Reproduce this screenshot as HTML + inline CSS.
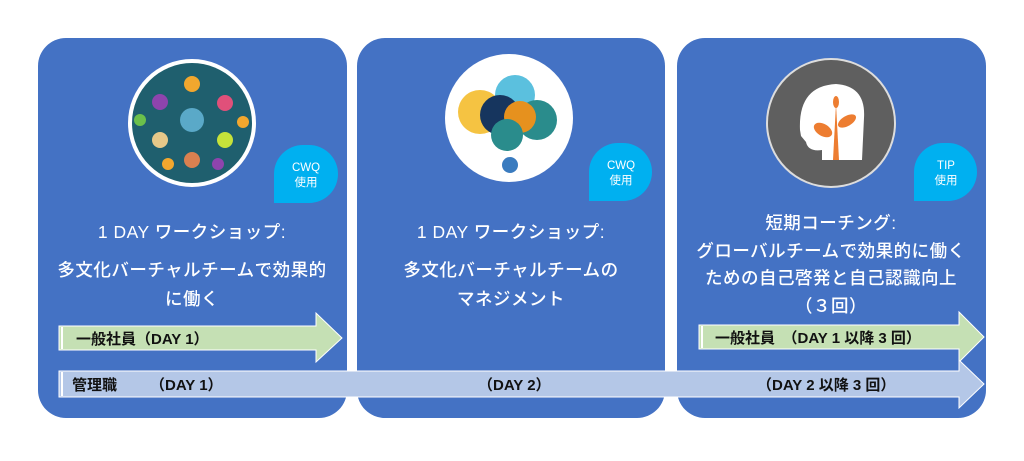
<!DOCTYPE html>
<html><head><meta charset="utf-8"><style>
body{margin:0;background:#fff;width:1024px;height:456px;overflow:hidden;font-family:"Liberation Sans","Noto Sans CJK JP",sans-serif}
</style></head><body>
<svg width="1024" height="456" xmlns="http://www.w3.org/2000/svg" font-family="Liberation Sans, Noto Sans CJK JP, sans-serif">
<rect x="38" y="38" width="309" height="380" rx="28" fill="#4472C4"/>
<rect x="357" y="38" width="308" height="380" rx="28" fill="#4472C4"/>
<rect x="677" y="38" width="309" height="380" rx="28" fill="#4472C4"/>
<!-- circle 1 -->
<circle cx="192" cy="123" r="64" fill="#fff"/>
<circle cx="192" cy="123" r="60" fill="#1f5f6e"/>
<g fill="#f2a72e"><circle cx="192" cy="120" r="12" fill="#5aa9c8"/><circle cx="192" cy="84" r="8"/><circle cx="225" cy="103" r="8" fill="#e0507a"/><circle cx="160" cy="102" r="8" fill="#8e44ad"/><circle cx="225" cy="140" r="8" fill="#c6e23a"/><circle cx="160" cy="140" r="8" fill="#e6c889"/><circle cx="192" cy="160" r="8" fill="#d98050"/><circle cx="140" cy="120" r="6" fill="#6bc04b"/><circle cx="243" cy="122" r="6"/><circle cx="168" cy="164" r="6"/><circle cx="218" cy="164" r="6" fill="#8e44ad"/></g>
<!-- circle 2 -->
<circle cx="509" cy="118" r="64" fill="#fff"/>
<circle cx="480" cy="112" r="22" fill="#f5c342"/>
<circle cx="515" cy="95" r="20" fill="#5bc0de"/>
<circle cx="537" cy="120" r="20" fill="#2a8c8c"/>
<circle cx="500" cy="115" r="20" fill="#16355e"/>
<circle cx="520" cy="117" r="16" fill="#e6911e"/>
<circle cx="507" cy="135" r="16" fill="#2a8c8c"/>
<circle cx="510" cy="165" r="8" fill="#3a7bbf"/>
<!-- circle 3 -->
<circle cx="831" cy="123" r="65" fill="#ddd"/>
<circle cx="831" cy="123" r="63" fill="#5f5f5f"/>
<path d="M800 130 Q798 86 836 84 Q866 86 864 118 L862 160 L822 160 L822 150 Q808 152 806 142 L801 136 Z" fill="#fff"/>
<path d="M833 160 L836 104 L839 160 Z" fill="#ed7d31"/><ellipse cx="836" cy="102" rx="3" ry="6" fill="#ed7d31"/>
<ellipse cx="823" cy="130" rx="10" ry="6" fill="#ed7d31" transform="rotate(30 823 130)"/>
<ellipse cx="847" cy="121" rx="10" ry="5" fill="#ed7d31" transform="rotate(-30 847 121)"/>
<!-- badges -->
<g fill="#00B0F0">
<path d="M274 203 V174 a29 29 0 0 1 29 -29 h6 a29 29 0 0 1 29 29 a29 29 0 0 1 -29 29 Z"/>
<path d="M589 201 V172 a29 29 0 0 1 29 -29 h5 a29 29 0 0 1 29 29 a29 29 0 0 1 -29 29 Z"/>
<path d="M914 201 V172 a29 29 0 0 1 29 -29 h5 a29 29 0 0 1 29 29 a29 29 0 0 1 -29 29 Z"/>
</g>
<g fill="#fff" font-size="11.5" text-anchor="middle">
<text x="306" y="171">CWQ</text><text x="306" y="186">使用</text>
<text x="621" y="169">CWQ</text><text x="621" y="184">使用</text>
<text x="946" y="169">TIP</text><text x="946" y="184">使用</text>
</g>
<g fill="#fff" font-size="17.5" text-anchor="middle" font-weight="500" letter-spacing="0.5">
<text x="192" y="238">1 DAY ワークショップ:</text>
<text x="192" y="276">多文化バーチャルチームで効果的</text>
<text x="192" y="305">に働く</text>
<text x="511" y="238">1 DAY ワークショップ:</text>
<text x="511" y="276">多文化バーチャルチームの</text>
<text x="511" y="305">マネジメント</text>
<text x="831" y="229">短期コーチング:</text>
<text x="831" y="257">グローバルチームで効果的に働く</text>
<text x="831" y="284">ための自己啓発と自己認識向上</text>
<text x="831" y="312">（３回）</text>
</g>
<!-- arrows -->
<path d="M59 326 H316 V313 L342 338 L316 362 V350 H59 Z" fill="#C5E0B4" stroke="#fff" stroke-width="1"/>
<path d="M699 325 H959 V312 L984 337 L959 362 V349 H699 Z" fill="#C5E0B4" stroke="#fff" stroke-width="1"/>
<path d="M59 371 H959 V360 L984 384 L959 408 V397 H59 Z" fill="#B4C7E7" stroke="#fff" stroke-width="1"/>
<g fill="#fff"><rect x="61" y="327" width="2" height="22"/><rect x="701" y="326" width="2" height="22"/><rect x="61" y="372" width="2" height="24"/></g>
<g fill="#111" font-size="15" font-weight="bold">
<text x="76" y="344">一般社員（DAY 1）</text>
<text x="715" y="343">一般社員　（DAY 1 以降  3 回）</text>
<text x="72" y="390">管理職</text>
<text x="150" y="390">（DAY 1）</text>
<text x="478" y="390">（DAY 2）</text>
<text x="757" y="390">（DAY 2 以降  3 回）</text>
</g>
</svg>
</body></html>
